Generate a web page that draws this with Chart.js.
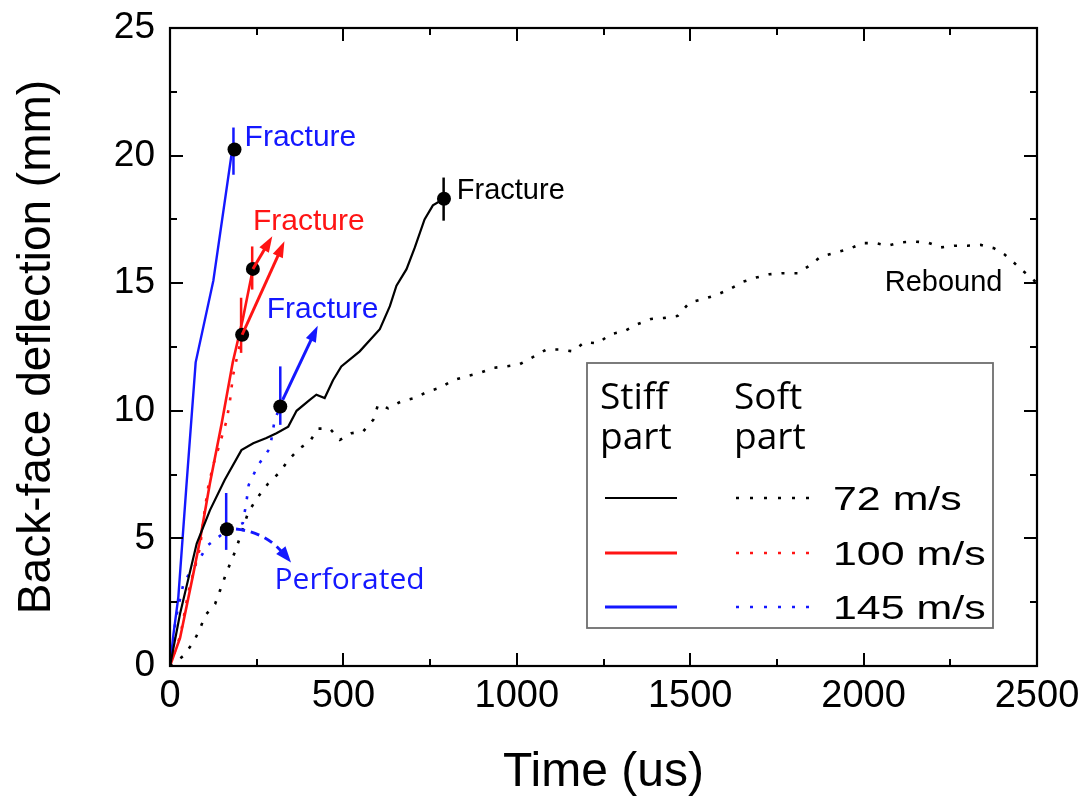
<!DOCTYPE html>
<html>
<head>
<meta charset="utf-8">
<script src="https://cdn.jsdelivr.net/npm/chart.js@4.4.1/dist/chart.umd.min.js"></script>
<style>
  html, body { margin: 0; padding: 0; background: #fff; }
  #wrap { width: 1091px; height: 809px; }
</style>
</head>
<body>
<div id="wrap"><canvas id="chart" width="1091" height="809"></canvas></div>
<script>
// Back-face deflection (mm) vs time (us)
const stiff72T = [0, 29, 77, 115, 158, 206, 240, 278, 307, 341, 365, 403, 422, 446, 470, 494, 547, 605, 634, 653, 682, 706, 734, 758, 790];
const stiff72Y = [0, 2.05, 4.8, 6.1, 7.3, 8.46, 8.73, 8.93, 9.12, 9.38, 10.0, 10.43, 10.63, 10.5, 11.2, 11.74, 12.33, 13.2, 14.1, 14.9, 15.55, 16.4, 17.5, 18.05, 18.31];

const soft72T = [0, 38, 67, 86, 101, 130, 144, 158, 173, 187, 202, 226, 254, 283, 317, 341, 374, 403, 427, 461, 490, 523, 557, 586, 600, 629, 667, 706, 744, 778, 816, 854, 893, 931, 970, 1006, 1046, 1085, 1123, 1162, 1195, 1233, 1270, 1310, 1349, 1387, 1426, 1464, 1498, 1536, 1574, 1613, 1651, 1690, 1728, 1766, 1810, 1843, 1877, 1920, 1958, 1997, 2035, 2069, 2107, 2146, 2184, 2222, 2261, 2299, 2338, 2376, 2405, 2434, 2453, 2477, 2500];
const soft72Y = [0, 0.39, 0.92, 1.44, 1.97, 2.43, 2.95, 3.48, 4.0, 4.46, 5.05, 6.04, 6.63, 7.15, 7.6, 8.07, 8.53, 8.8, 9.3, 9.3, 8.86, 9.12, 9.19, 9.65, 10.24, 10.1, 10.37, 10.5, 10.76, 10.9, 11.2, 11.35, 11.48, 11.68, 11.74, 11.81, 12.1, 12.4, 12.4, 12.33, 12.69, 12.64, 13.0, 13.12, 13.4, 13.6, 13.64, 13.72, 14.24, 14.37, 14.53, 14.76, 15.05, 15.22, 15.35, 15.39, 15.39, 15.68, 16.05, 16.2, 16.34, 16.57, 16.57, 16.47, 16.6, 16.63, 16.6, 16.4, 16.47, 16.47, 16.5, 16.37, 16.14, 15.8, 15.55, 15.29, 15.0];

const stiff100T = [0, 29, 67, 86, 115, 149, 181, 210, 239];
const stiff100Y = [0, 1.1, 3.6, 4.9, 7.15, 9.5, 11.9, 13.6, 15.56];

const soft100T = [0, 30, 53, 72, 86, 101, 110, 125, 139, 163, 173, 182, 195, 208];
const soft100Y = [0, 1.2, 2.9, 3.9, 4.6, 6.2, 7.0, 7.9, 8.5, 9.6, 10.4, 11.4, 12.2, 12.98];

const stiff145T = [0, 10, 24, 47, 74, 125, 178, 186];
const stiff145Y = [0, 1.25, 2.7, 7.0, 11.9, 15.1, 20.1, 20.24];

const soft145T = [0, 10, 14, 22, 40, 86, 106, 154, 210, 220, 227, 254, 288, 302, 318];
const soft145Y = [0, 1.05, 1.57, 2.2, 3.3, 4.2, 4.7, 5.2, 5.6, 6.4, 7.1, 7.87, 8.53, 9.65, 10.17];

// fracture / perforation points
const markT = [186, 790, 239, 208, 318, 164];
const markY = [20.24, 18.31, 15.56, 12.98, 10.17, 5.36];

const speeds = ['72 m/s', '100 m/s', '145 m/s'];
const xTicks = [0, 2500, 500];
const yTicks = [0, 25, 5];

const BLACK = '#000000';
const RED = '#ff1414';
const BLUE = '#1418ff';

// annotations in data units
const fracTicks = [
  [183, 21.1, 19.25, BLUE], [789, 19.14, 17.45, BLACK], [237, 16.44, 14.75, RED],
  [205, 14.43, 12.27, RED], [318, 11.74, 9.45, BLUE], [162, 6.78, 4.55, BLUE]
];
const notes = [
  ['Fracture', 215, 20.71, BLUE, '30px "Liberation Sans"'],
  ['Fracture', 827, 18.6, BLACK, '29px "Liberation Sans"'],
  ['Fracture', 239, 17.42, RED, '30px "Liberation Sans"'],
  ['Fracture', 279, 13.96, BLUE, '30px "Liberation Sans"'],
  ['Perforated', 301.5, 3.37, BLUE, '30px "Open Sans"'],
  ['Rebound', 2061, 15.0, BLACK, '29px "Liberation Sans"']
];
const arrows = [
  [239, 15.56, 295, 16.84, RED],
  [208, 12.98, 330, 16.64, RED],
  [325, 10.43, 426, 13.33, BLUE]
];
const perfCurve = [[190.4, 5.37], [277, 5.24], [349, 4.06]];

const pts = (ts, ys) => ts.map((t, i) => ({ x: t, y: ys[i] }));

const solid = (label, ts, ys, color, w) => ({
  label, data: pts(ts, ys), borderColor: color, backgroundColor: color,
  borderWidth: w, pointRadius: 0, tension: 0, fill: false
});
const dotted = (label, ts, ys, color) => ({
  label, data: pts(ts, ys), borderColor: color, backgroundColor: color,
  borderWidth: 2.6, borderDash: [3, 10], borderCapStyle: 'butt',
  pointRadius: 0, tension: 0, fill: false
});

function arrowHead(ctx, x0, y0, x1, y1, len, w) {
  const a = Math.atan2(y1 - y0, x1 - x0);
  ctx.beginPath();
  ctx.moveTo(x1, y1);
  ctx.lineTo(x1 - len * Math.cos(a) + w / 2 * Math.sin(a), y1 - len * Math.sin(a) - w / 2 * Math.cos(a));
  ctx.lineTo(x1 - len * Math.cos(a) - w / 2 * Math.sin(a), y1 - len * Math.sin(a) + w / 2 * Math.cos(a));
  ctx.closePath();
  ctx.fill();
}

function stretchText(ctx, text, x, y, font, color, sx) {
  ctx.save();
  ctx.font = font;
  ctx.fillStyle = color;
  ctx.textAlign = 'left';
  ctx.textBaseline = 'alphabetic';
  ctx.translate(x, y);
  ctx.scale(sx, 1);
  ctx.fillText(text, 0, 0);
  ctx.restore();
}

// inward tick marks and the box frame
const framePlugin = {
  id: 'frame',
  afterDatasetsDraw(chart) {
    const { ctx, chartArea: a, scales: { x, y } } = chart;
    ctx.save();
    ctx.strokeStyle = '#000';
    ctx.lineWidth = 2;
    ctx.beginPath();
    const vals = (s, step) => {
      const out = [];
      for (let v = s.min; v <= s.max + 1e-9; v += step / 2) out.push(v);
      return out;
    };
    vals(x, xTicks[2]).forEach((v, i) => {
      const px = Math.round(x.getPixelForValue(v));
      const len = i % 2 === 0 ? 13 : 7;
      ctx.moveTo(px, a.bottom); ctx.lineTo(px, a.bottom - len);
      ctx.moveTo(px, a.top); ctx.lineTo(px, a.top + len);
    });
    vals(y, yTicks[2]).forEach((v, i) => {
      const py = Math.round(y.getPixelForValue(v));
      const len = i % 2 === 0 ? 13 : 7;
      ctx.moveTo(a.left, py); ctx.lineTo(a.left + len, py);
      ctx.moveTo(a.right, py); ctx.lineTo(a.right - len, py);
    });
    ctx.stroke();
    ctx.lineWidth = 2.2;
    ctx.strokeRect(a.left, a.top, a.right - a.left, a.bottom - a.top);
    ctx.restore();
  }
};

const notesPlugin = {
  id: 'notes',
  beforeDatasetsDraw(chart) {
    const { ctx, scales: { x, y } } = chart;
    ctx.save();
    ctx.lineWidth = 2.5;
    fracTicks.forEach(([t, v0, v1, c]) => {
      const px = x.getPixelForValue(t);
      ctx.strokeStyle = c;
      ctx.beginPath();
      ctx.moveTo(px, y.getPixelForValue(v0));
      ctx.lineTo(px, y.getPixelForValue(v1));
      ctx.stroke();
    });
    ctx.restore();
  },
  afterDatasetsDraw(chart) {
    const { ctx, scales: { x, y } } = chart;
    ctx.save();
    // straight arrows
    arrows.forEach(([t0, v0, t1, v1, c]) => {
      const x0 = x.getPixelForValue(t0), y0 = y.getPixelForValue(v0);
      const x1 = x.getPixelForValue(t1), y1 = y.getPixelForValue(v1);
      const a = Math.atan2(y1 - y0, x1 - x0);
      ctx.strokeStyle = c; ctx.fillStyle = c; ctx.lineWidth = 3;
      ctx.beginPath();
      ctx.moveTo(x0, y0);
      ctx.lineTo(x1 - 12 * Math.cos(a), y1 - 12 * Math.sin(a));
      ctx.stroke();
      arrowHead(ctx, x0, y0, x1, y1, 16, 11);
    });
    // dashed curved arrow to "Perforated"
    const [s, c, e] = perfCurve.map(([t, v]) => [x.getPixelForValue(t), y.getPixelForValue(v)]);
    ctx.strokeStyle = BLUE; ctx.fillStyle = BLUE; ctx.lineWidth = 3;
    ctx.setLineDash([9, 6]);
    ctx.beginPath();
    ctx.moveTo(s[0], s[1]);
    ctx.quadraticCurveTo(c[0], c[1], e[0] - 8, e[1] - 9);
    ctx.stroke();
    ctx.setLineDash([]);
    arrowHead(ctx, c[0], c[1], e[0], e[1], 16, 12);
    // labels
    notes.forEach(([txt, t, v, col, font]) => {
      ctx.font = font;
      ctx.fillStyle = col;
      ctx.textAlign = 'left';
      ctx.textBaseline = 'middle';
      ctx.fillText(txt, x.getPixelForValue(t), y.getPixelForValue(v));
    });
    ctx.restore();
  }
};

// legend box: stiff part (solid) and soft part (dotted) per impact speed
const legendPlugin = {
  id: 'speedLegend',
  afterDraw(chart) {
    const { ctx } = chart;
    const ds = chart.data.datasets;
    const box = { l: 587, t: 363, r: 993, b: 628 };
    ctx.save();
    ctx.fillStyle = '#fff';
    ctx.fillRect(box.l, box.t, box.r - box.l, box.b - box.t);
    ctx.strokeStyle = '#6e6e6e';
    ctx.lineWidth = 1.8;
    ctx.strokeRect(box.l, box.t, box.r - box.l, box.b - box.t);
    const head = '36px "Open Sans"';
    stretchText(ctx, 'Stiff', 600, 409, head, '#000', 1.03);
    stretchText(ctx, 'part', 600, 449, head, '#000', 1.03);
    stretchText(ctx, 'Soft', 734, 409, head, '#000', 1.03);
    stretchText(ctx, 'part', 734, 449, head, '#000', 1.03);
    const rows = [498, 553, 607];
    speeds.forEach((sp, i) => {
      const sd = ds[1 + i * 2], dd = ds[2 + i * 2];
      const yy = rows[i];
      ctx.strokeStyle = sd.borderColor;
      ctx.lineWidth = i === 0 ? 2.2 : 3;
      ctx.setLineDash([]);
      ctx.beginPath(); ctx.moveTo(605, yy); ctx.lineTo(677, yy); ctx.stroke();
      ctx.strokeStyle = dd.borderColor;
      ctx.lineWidth = 2.6;
      ctx.setLineDash([3, 11]);
      ctx.beginPath(); ctx.moveTo(736, yy); ctx.lineTo(810, yy); ctx.stroke();
      ctx.setLineDash([]);
      stretchText(ctx, sp, 833, yy + 12, '33px "Liberation Sans"', '#000', 1.3);
    });
    ctx.restore();
  }
};

new Chart(document.getElementById('chart'), {
  type: 'line',
  data: {
    datasets: [
      {
        label: 'fracture', data: pts(markT, markY), showLine: false,
        pointRadius: 7, pointHoverRadius: 7, pointBackgroundColor: '#000',
        pointBorderColor: '#000', pointBorderWidth: 0
      },
      solid('Stiff 72 m/s', stiff72T, stiff72Y, BLACK, 2.2),
      dotted('Soft 72 m/s', soft72T, soft72Y, BLACK),
      solid('Stiff 100 m/s', stiff100T, stiff100Y, RED, 2.6),
      dotted('Soft 100 m/s', soft100T, soft100Y, RED),
      solid('Stiff 145 m/s', stiff145T, stiff145Y, BLUE, 2.4),
      dotted('Soft 145 m/s', soft145T, soft145Y, BLUE)
    ]
  },
  options: {
    responsive: false,
    animation: false,
    events: [],
    layout: { padding: { top: 28, right: 54, bottom: 0, left: 0 } },
    plugins: { legend: { display: false }, tooltip: { enabled: false } },
    scales: {
      x: {
        type: 'linear', min: xTicks[0], max: xTicks[1],
        grid: { display: false, drawTicks: false },
        border: { display: false },
        ticks: {
          stepSize: xTicks[2], padding: 8, color: '#000',
          callback: (v) => String(v),
          font: { family: '"Liberation Sans Narrow", "Liberation Sans"', size: 38 }
        },
        title: {
          display: true, text: 'Time (us)', color: '#000',
          font: { family: '"Liberation Sans"', size: 48 }, padding: { top: 0, bottom: 7 }
        },
        afterFit: (s) => { s.height = 143; s.paddingLeft = 0; s.paddingRight = 0; }
      },
      y: {
        type: 'linear', min: yTicks[0], max: yTicks[1],
        grid: { display: false, drawTicks: false },
        border: { display: false },
        ticks: {
          stepSize: yTicks[2], padding: 15, color: '#000',
          font: { family: '"Liberation Sans"', size: 37 }
        },
        title: {
          display: true, text: 'Back-face deflection (mm)', color: '#000',
          font: { family: '"Liberation Sans"', size: 46 }, padding: { top: 10, bottom: 0 }
        },
        afterFit: (s) => { s.width = 170; s.paddingTop = 0; s.paddingBottom = 0; }
      }
    }
  },
  plugins: [notesPlugin, framePlugin, legendPlugin]
});
</script>
</body>
</html>
